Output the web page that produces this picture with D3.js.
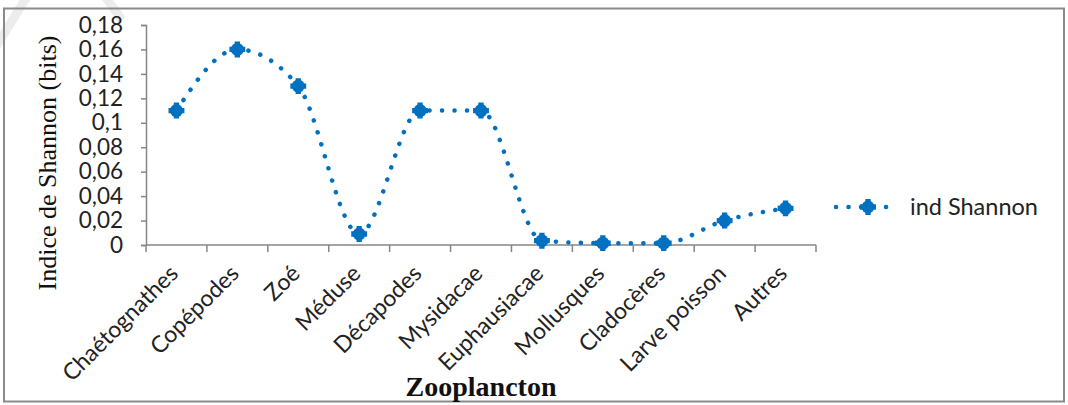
<!DOCTYPE html>
<html><head><meta charset="utf-8">
<script src="https://cdn.jsdelivr.net/npm/d3@7"></script>
<style>body{margin:0;background:#fff}svg{display:block}</style>
</head><body>
<svg id="c" width="1068" height="405"></svg>
<script>
const categories = ["Chaétognathes","Copépodes","Zoé","Méduse","Décapodes","Mysidacae","Euphausiacae","Mollusques","Cladocères","Larve poisson","Autres"];
const shannon = [0.11,0.16,0.13,0.009,0.11,0.11,0.0035,0.0015,0.0015,0.02,0.03];
const yTicks = [0,0.02,0.04,0.06,0.08,0.1,0.12,0.14,0.16,0.18];
const seriesName = "ind Shannon";
const yTitle = "Indice de Shannon (bits)";
const xTitle = "Zooplancton";

const blue = "#0070C0", axisCol = "#868686";
const svg = d3.select("#c");
const fmt = v => String(v).replace(".", ",");
const sans = "Lato, 'Noto Sans', sans-serif";

// faint watermark strokes
svg.append("path").attr("d","M-5,48 L28,-5").attr("stroke","#ececec").attr("stroke-width",9).attr("fill","none");
svg.append("path").attr("d","M104,-5 L122,20").attr("stroke","#ececec").attr("stroke-width",9).attr("fill","none");

svg.append("rect").attr("x",4).attr("y",8.5).attr("width",1060).attr("height",393)
  .attr("fill","none").attr("stroke","#8a8a8a").attr("stroke-width",2);

const x = d3.scaleBand().domain(categories).range([146,816]);
const y = d3.scaleLinear().domain([0,0.18]).range([245,25]);

// y axis
const ya = svg.append("g").attr("transform","translate(146,0)")
  .call(d3.axisLeft(y).tickValues(yTicks).tickFormat(fmt).tickSize(5).tickPadding(18));
ya.select(".domain").attr("stroke",axisCol).attr("stroke-width",1.5);
ya.selectAll(".tick line").attr("stroke",axisCol).attr("stroke-width",1.5);
ya.selectAll("text").attr("font-family",sans).attr("font-size",22.5).attr("fill","#222");

// x axis
const xa = svg.append("g").attr("transform","translate(0,245)");
xa.append("line").attr("x1",146).attr("x2",816).attr("stroke",axisCol).attr("stroke-width",1.5);
const bounds = categories.map(c => x(c)).concat([x.range()[1]]);
xa.selectAll("line.tk").data(bounds).join("line").attr("class","tk")
  .attr("x1",d=>d).attr("x2",d=>d).attr("y1",0).attr("y2",7).attr("stroke",axisCol).attr("stroke-width",1.5);
xa.selectAll("text").data(categories).join("text")
  .attr("transform",d=>`translate(${x(d)+x.bandwidth()/2+3},${30}) rotate(-45)`)
  .attr("text-anchor","end").attr("font-family",sans).attr("font-size",23).attr("fill","#222")
  .text(d=>d);

// titles
svg.append("text").attr("transform","translate(56,163) rotate(-90)").attr("text-anchor","middle")
  .attr("font-family","'Liberation Serif', 'Times New Roman', serif").attr("font-size",26).attr("fill","#111").text(yTitle);
svg.append("text").attr("x",481).attr("y",396).attr("text-anchor","middle")
  .attr("font-family","'Liberation Serif', 'Times New Roman', serif").attr("font-weight","bold").attr("font-size",28).attr("fill","#111").text(xTitle);

// line
const cx = d => x(d)+x.bandwidth()/2;
const line = d3.line().x((d,i)=>cx(categories[i])).y(d=>y(d)).curve(d3.curveMonotoneX);
svg.append("path").datum(shannon).attr("d",line).attr("fill","none").attr("stroke",blue)
  .attr("stroke-width",4.5).attr("stroke-linecap","round").attr("stroke-dasharray","0.1 12.4");

function marker(g){
  g.append("path").attr("d",d3.symbol(d3.symbolCross,140)()).attr("fill",blue);
  g.append("circle").attr("r",6.5).attr("fill",blue);
}
svg.selectAll("g.pt").data(shannon).join("g").attr("class","pt")
  .attr("transform",(d,i)=>`translate(${cx(categories[i])},${y(d)})`).each(function(){marker(d3.select(this));});

// legend
const lg = svg.append("g").attr("transform","translate(0,207)");
lg.append("line").attr("x1",836).attr("x2",898).attr("y1",0).attr("y2",0).attr("stroke",blue)
  .attr("stroke-width",4.5).attr("stroke-linecap","round").attr("stroke-dasharray","0.1 12.4");
const lm = lg.append("g").attr("transform","translate(868,0)"); marker(lm);
lg.append("text").attr("x",910).attr("y",8).attr("font-family",sans).attr("font-size",23.5).attr("fill","#222").text(seriesName);
</script>
</body></html>
